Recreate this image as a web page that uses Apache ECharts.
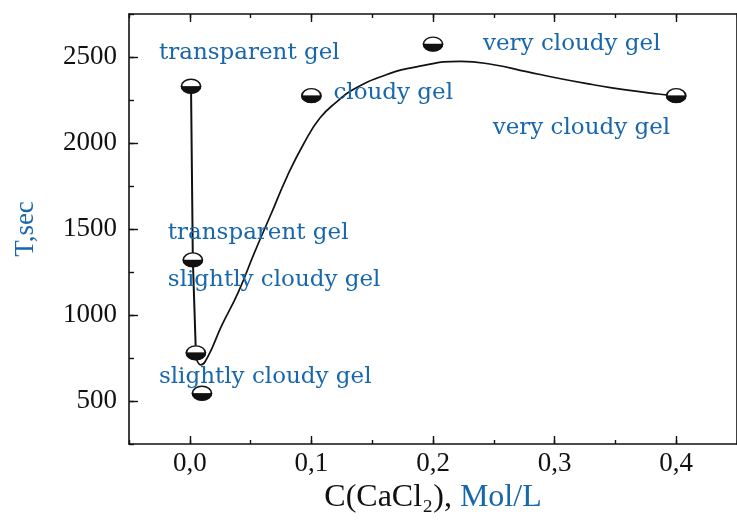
<!DOCTYPE html>
<html>
<head>
<meta charset="utf-8">
<script src="https://cdn.jsdelivr.net/npm/echarts@6/dist/echarts.min.js"></script>
<style>
  html, body { margin: 0; padding: 0; background: #fff; }
  #chart { width: 737px; height: 523px; }
</style>
</head>
<body>
<div id="chart"></div>
<script>
// Gelation time vs CaCl2 concentration
const concentration = [0.001, 0.0025, 0.005, 0.01, 0.1, 0.2, 0.4];   // Mol/L
const gelTime       = [2330, 1320, 780, 545, 2275, 2575, 2275];       // T, sec
const gelNotes = [
  'transparent gel',
  'transparent gel\nslightly cloudy gel',
  '',
  'slightly cloudy gel',
  'cloudy gel',
  'very cloudy gel',
  'very cloudy gel'
];
// points joined by straight segments (low-concentration branch)
const branchCount = 3;

// fitted trend curve
const fitX = [0.0057, 0.009, 0.015, 0.026, 0.040, 0.053, 0.067, 0.080, 0.094, 0.107, 0.121,
              0.134, 0.161, 0.188, 0.223, 0.250, 0.277, 0.304, 0.331, 0.357, 0.385, 0.400];
const fitT = [740, 710, 760, 935, 1135, 1360, 1590, 1805, 2000, 2145, 2240,
              2310, 2395, 2445, 2475, 2455, 2415, 2375, 2340, 2310, 2285, 2275];

const xMajor = [0, 0.1, 0.2, 0.3, 0.4];
const yMajor = [500, 1000, 1500, 2000, 2500];

const BLUE = '#1866ab';
const INK = '#111';
const SERIF = '"Liberation Serif", "Times New Roman", serif';
const NOTE_FONT = '"DejaVu Serif", serif';

// label placement per point (relative to the marker centre)
const noteStyle = [
  { align: 'left',  offset: [-32, -33] },
  { align: 'left',  offset: [-25, -3], lineHeight: 47 },
  { align: 'left',  offset: [0, 0] },
  { align: 'left',  offset: [-43, -16] },
  { align: 'left',  offset: [22, -3] },
  { align: 'left',  offset: [50, 0] },
  { align: 'right', offset: [-6, 32] }
];

const ellipsePath = 'path://M0,10 C0,4.477 4.477,0 10,0 C15.523,0 20,4.477 20,10 C20,15.523 15.523,20 10,20 C4.477,20 0,15.523 0,10 Z';
const lowerHalfPath = 'path://M0,10 C0,15.523 4.477,20 10,20 C15.523,20 20,15.523 20,10 Z';
const MARK_W = 19, MARK_H = 14;

const points = concentration.map((c, i) => [c, gelTime[i]]);
const branch = points.slice(0, branchCount);
const fit = fitX.map((c, i) => [c, fitT[i]]);

const commaFmt = v => v.toFixed(1).replace('.', ',');

const chart = echarts.init(document.getElementById('chart'), null, { renderer: 'canvas' });

const frameLine = { show: true, onZero: false, lineStyle: { color: INK, width: 1.6 } };
const noLine = { show: false, onZero: false };

chart.setOption({
  animation: false,
  backgroundColor: '#fff',
  grid: { left: 129, right: -10.5, top: 14, bottom: 79, containLabel: false },
  xAxis: [
    {
      type: 'value', position: 'bottom', min: -0.05, max: 0.45, interval: 0.05,
      axisLine: frameLine,
      axisTick: { show: true, inside: true, length: 8, customValues: xMajor, lineStyle: { color: INK, width: 1.4 } },
      axisLabel: { customValues: xMajor, formatter: commaFmt, fontFamily: SERIF, fontSize: 27, color: INK, margin: 6 },
      splitLine: { show: false },
      name: '{k|C(CaCl₂), }{u|Mol/L}',
      nameLocation: 'middle', nameGap: 37,
      nameTextStyle: {
        rich: {
          k: { fontFamily: SERIF, fontSize: 32, color: INK },
          u: { fontFamily: SERIF, fontSize: 32, color: BLUE }
        }
      }
    },
    {
      type: 'value', position: 'bottom', min: -0.05, max: 0.45, interval: 0.05,
      axisLine: noLine,
      axisTick: { show: true, inside: true, length: 4, lineStyle: { color: INK, width: 1.4 } },
      axisLabel: { show: false }, splitLine: { show: false }
    },
    {
      type: 'value', position: 'top', min: -0.05, max: 0.45, interval: 0.05,
      axisLine: frameLine,
      axisTick: { show: true, inside: true, length: 8, customValues: xMajor, lineStyle: { color: INK, width: 1.4 } },
      axisLabel: { show: false }, splitLine: { show: false }
    },
    {
      type: 'value', position: 'top', min: -0.05, max: 0.45, interval: 0.05,
      axisLine: noLine,
      axisTick: { show: true, inside: true, length: 4, lineStyle: { color: INK, width: 1.4 } },
      axisLabel: { show: false }, splitLine: { show: false }
    }
  ],
  yAxis: [
    {
      type: 'value', position: 'left', min: 250, max: 2750, interval: 250,
      axisLine: frameLine,
      axisTick: { show: true, inside: true, length: 9, customValues: yMajor, lineStyle: { color: INK, width: 1.4 } },
      axisLabel: { customValues: yMajor, formatter: v => String(v), fontFamily: SERIF, fontSize: 27, color: INK, margin: 12 },
      splitLine: { show: false },
      name: 'T,sec', nameLocation: 'middle', nameGap: 90, nameRotate: 90,
      nameTextStyle: { fontFamily: SERIF, fontSize: 27, color: BLUE }
    },
    {
      type: 'value', position: 'left', min: 250, max: 2750, interval: 250,
      axisLine: noLine,
      axisTick: { show: true, inside: true, length: 5, lineStyle: { color: INK, width: 1.4 } },
      axisLabel: { show: false }, splitLine: { show: false }
    },
    {
      type: 'value', position: 'right', min: 250, max: 2750, interval: 250,
      axisLine: frameLine, axisTick: { show: false }, axisLabel: { show: false }, splitLine: { show: false }
    }
  ],
  series: [
    {
      name: 'fit', type: 'line', data: fit, smooth: 0.5,
      showSymbol: false, symbol: 'none', z: 2,
      lineStyle: { color: INK, width: 1.7 }
    },
    {
      name: 'branch', type: 'line', data: branch,
      showSymbol: false, symbol: 'none', z: 2,
      lineStyle: { color: INK, width: 2 }
    },
    {
      name: 'markers', type: 'scatter', z: 3,
      symbol: ellipsePath, symbolSize: [MARK_W, MARK_H],
      itemStyle: { color: '#fff', borderColor: INK, borderWidth: 1.5, opacity: 1 },
      data: points.map((p, i) => ({
        value: p,
        label: {
          show: gelNotes[i] !== '',
          formatter: gelNotes[i],
          position: 'inside',
          align: noteStyle[i].align,
          verticalAlign: 'middle',
          offset: noteStyle[i].offset,
          lineHeight: noteStyle[i].lineHeight || 28,
          fontFamily: NOTE_FONT, fontSize: 23, color: BLUE
        }
      }))
    },
    {
      name: 'marker fill', type: 'scatter', z: 4, silent: true,
      symbol: lowerHalfPath, symbolSize: [MARK_W, MARK_H / 2], symbolOffset: [0, MARK_H / 4],
      itemStyle: { color: INK, borderColor: INK, borderWidth: 1, opacity: 1 },
      data: points
    }
  ]
});
</script>
</body>
</html>
